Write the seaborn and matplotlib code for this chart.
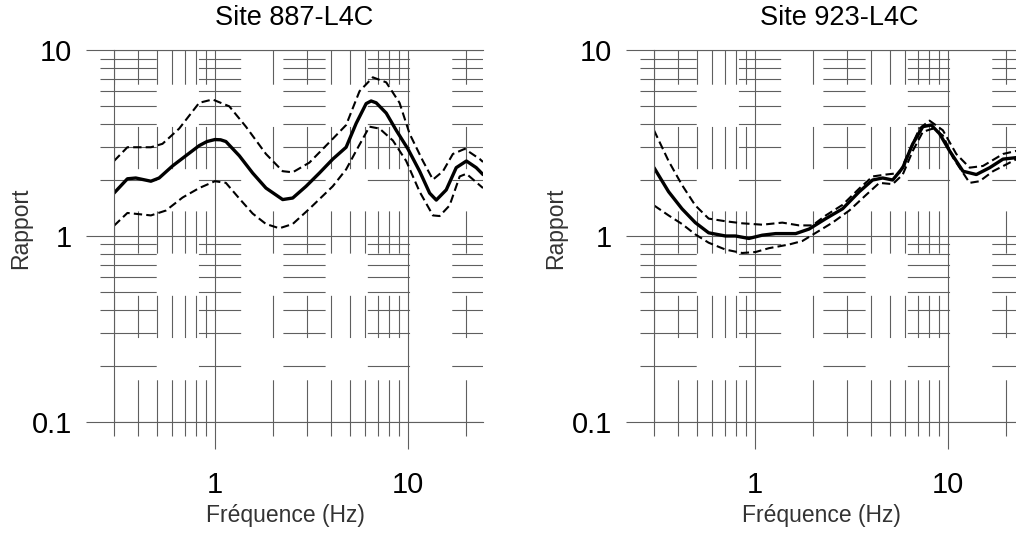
import numpy as np
import matplotlib
matplotlib.use("Agg")
import matplotlib.pyplot as plt
import matplotlib.ticker as ticker
import seaborn as sns

# ---- data (H/V spectral ratio curves) ----
titles = ["Site 887-L4C", "Site 923-L4C"]

# site 887
f887_mean = [0.300, 0.352, 0.389, 0.466, 0.514, 0.603, 0.707, 0.829, 0.91, 1.0, 1.07, 1.14, 1.338, 1.569,
             1.839, 2.245, 2.53, 2.967, 3.479, 4.08, 4.785, 5.393, 6.077, 6.45, 6.85, 7.72, 8.70,
             10.0, 11.5, 12.96, 14.03, 15.8, 17.8, 20.1, 22.6, 24.5]
r887_mean = [1.70, 2.03, 2.05, 1.97, 2.05, 2.38, 2.70, 3.06, 3.22, 3.30, 3.29, 3.22, 2.70, 2.18,
             1.81, 1.57, 1.60, 1.85, 2.18, 2.59, 3.00, 4.03, 5.15, 5.32, 5.20, 4.58, 3.70,
             2.94, 2.23, 1.70, 1.56, 1.77, 2.33, 2.53, 2.33, 2.14]
f887_up = [0.300, 0.352, 0.466, 0.535, 0.653, 0.829, 0.972, 1.187, 1.448, 1.839, 2.245, 2.53,
           3.087, 4.08, 4.785, 5.613, 6.58, 7.72, 9.05, 10.2, 11.96, 13.48, 15.2, 17.1,
           19.7, 23.6, 24.5]
r887_up = [2.53, 3.00, 3.00, 3.13, 3.78, 5.20, 5.42, 4.98, 3.87, 2.76, 2.23, 2.20,
           2.48, 3.33, 3.95, 6.00, 7.13, 6.70, 5.20, 3.55, 2.53, 2.01, 2.23, 2.76,
           2.94, 2.59, 2.50]
f887_low = [0.300, 0.352, 0.466, 0.557, 0.680, 0.829, 1.0, 1.14, 1.338, 1.569, 1.839, 2.158,
            2.53, 3.087, 4.08, 4.785, 5.393, 6.32, 7.13, 8.36, 9.80, 11.5, 13.48, 14.6,
            16.45, 18.55, 20.1, 24.5]
r887_low = [1.135, 1.33, 1.29, 1.37, 1.61, 1.81, 1.97, 1.93, 1.59, 1.32, 1.16, 1.10,
            1.16, 1.40, 1.85, 2.28, 2.87, 3.87, 3.78, 3.26, 2.53, 1.73, 1.29, 1.28,
            1.46, 2.09, 2.16, 1.81]

# site 923
f923_mean = [0.300, 0.357, 0.419, 0.491, 0.576, 0.704, 0.793, 0.931, 1.092, 1.281, 1.627, 1.909,
             2.330, 2.845, 3.473, 4.074, 4.592, 5.176, 5.834, 6.577, 7.413, 8.19, 9.05, 10.2,
             11.97, 14.04, 16.47, 19.3, 22.7, 25.0]
r923_mean = [2.33, 1.73, 1.40, 1.18, 1.04, 1.00, 1.00, 0.97, 1.01, 1.03, 1.03, 1.09,
             1.24, 1.40, 1.73, 2.00, 2.05, 2.00, 2.33, 3.13, 3.87, 3.95, 3.55, 2.87,
             2.23, 2.14, 2.33, 2.59, 2.64, 2.66]
f923_up = [0.300, 0.357, 0.419, 0.491, 0.576, 0.704, 0.859, 1.092, 1.387, 1.694, 1.987, 2.330,
           2.845, 3.473, 4.074, 4.779, 5.607, 6.32, 7.124, 8.03, 9.42, 11.05, 12.96, 15.2,
           19.3, 22.7, 25.0]
r923_up = [3.70, 2.53, 1.88, 1.46, 1.24, 1.20, 1.17, 1.15, 1.18, 1.14, 1.14, 1.29,
           1.47, 1.80, 2.09, 2.14, 2.18, 2.87, 3.78, 4.17, 3.70, 2.76, 2.33, 2.38,
           2.76, 2.87, 2.90]
f923_low = [0.300, 0.357, 0.419, 0.491, 0.576, 0.704, 0.859, 1.008, 1.183, 1.503, 1.762, 2.068,
            2.524, 3.082, 3.762, 4.413, 5.176, 5.834, 6.577, 7.413, 8.356, 9.42, 10.62, 12.96,
            14.6, 17.14, 22.7, 25.0]
r923_low = [1.46, 1.29, 1.16, 1.02, 0.92, 0.845, 0.81, 0.82, 0.86, 0.90, 0.94, 1.04,
            1.18, 1.37, 1.66, 1.93, 1.90, 2.14, 2.87, 3.63, 3.78, 3.47, 2.64, 1.93,
            1.97, 2.23, 2.59, 2.62]

x_ticks = [1, 10]
x_tick_labels = ["1", "10"]
y_ticks = [0.1, 1, 10]
y_tick_labels = ["0.1", "1", "10"]

panels = [
    (f887_mean, r887_mean, f887_up, r887_up, f887_low, r887_low),
    (f923_mean, r923_mean, f923_up, r923_up, f923_low, r923_low),
]

# ---- style ----
sns.set_style("white")
plt.rcParams["font.family"] = ["Liberation Sans", "DejaVu Sans"]
plt.rcParams["lines.scale_dashes"] = False

grid_c = "#5f5f5f"
fig = plt.figure(figsize=(10.16, 5.33), dpi=100)
lefts = [0.1122, 0.6437]
title_x = [0.488, 0.503]
xlabel_x = [0.465, 0.455]
ylabel_x = [-0.252, -0.267]

for i, (fm, rm, fu, ru, fl, rl) in enumerate(panels):
    ax = fig.add_axes([lefts[i], 0.2083, 0.3632, 0.6979])
    ax.set_xscale("log")
    ax.set_yscale("log")

    dash_kw = dict(color="black", lw=1.5, linestyle=(0, (6, 3)), dash_joinstyle="round")
    sns.lineplot(x=fu, y=ru, ax=ax, **dash_kw)
    sns.lineplot(x=fl, y=rl, ax=ax, **dash_kw)
    sns.lineplot(x=fm, y=rm, ax=ax, color="black", lw=2.4, solid_joinstyle="round")

    ax.set_xlim(0.3, 24.5)
    ax.set_ylim(0.1, 10)
    ax.set_xticks(x_ticks, labels=x_tick_labels)
    ax.set_yticks(y_ticks, labels=y_tick_labels)
    for axis in (ax.xaxis, ax.yaxis):
        axis.set_minor_locator(ticker.LogLocator(base=10, subs=np.arange(2, 10)))
        axis.set_minor_formatter(ticker.NullFormatter())

    # broken-looking grid: solid decades, long-dashed minors
    ax.grid(which="major", color=grid_c, lw=0.8, ls="-")
    ax.grid(which="minor", color=grid_c, lw=0.8, ls=(0, (30.4, 30.4)))
    ax.set_axisbelow(True)

    ax.spines["right"].set_visible(False)
    for side in ["left", "top", "bottom"]:
        ax.spines[side].set_visible(True)
        ax.spines[side].set_color(grid_c)
        ax.spines[side].set_linewidth(0.8)

    ax.tick_params(which="both", direction="out", color=grid_c, width=0.8,
                   bottom=True, left=True, top=False, right=False,
                   labelsize=21, labelcolor="black")
    ax.tick_params(axis="y", which="major", length=20, pad=10)
    ax.tick_params(axis="x", which="major", length=19.5, pad=16)
    ax.tick_params(which="minor", length=10)

    ax.set_xlabel("Fréquence (Hz)", fontsize=16.5, color="#333333")
    ax.xaxis.set_label_coords(xlabel_x[i], -0.2527)
    ax.xaxis.label.set_va("center")
    ax.set_ylabel("Rapport", fontsize=16.5, color="#333333")
    ax.yaxis.set_label_coords(ylabel_x[i], 0.52)
    ax.yaxis.label.set_va("center")
    ax.text(title_x[i], 1.086, titles[i], transform=ax.transAxes, ha="center",
            va="center", fontsize=19.5, color="black")

fig.savefig("out.png", dpi=100)
